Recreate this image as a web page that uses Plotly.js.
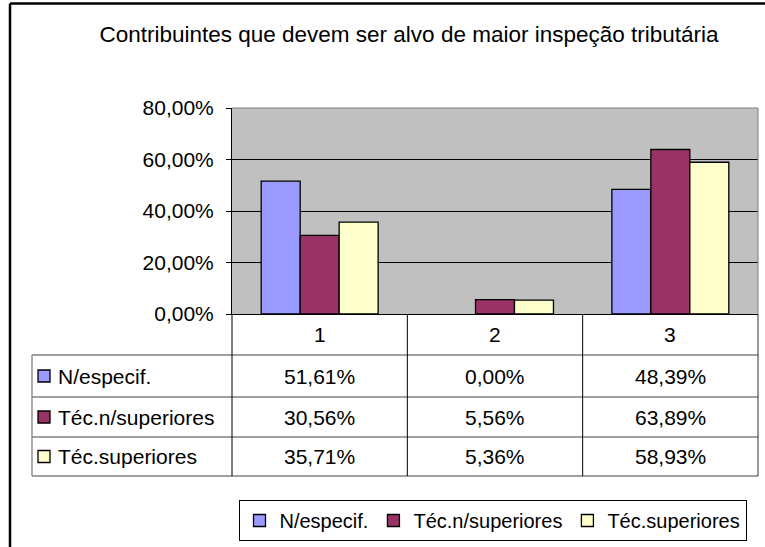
<!DOCTYPE html>
<html>
<head>
<meta charset="utf-8">
<script src="https://cdn.plot.ly/plotly-3.0.1.min.js"></script>
<style>html,body{margin:0;padding:0;background:#fff;}#chart{width:765px;height:547px;}</style>
</head>
<body>
<div id="chart"></div>
<script>
const titleText = 'Contribuintes que devem ser alvo de maior inspeção tributária';
const categories = ['1', '2', '3'];
const seriesNames = ['N/especif.', 'Téc.n/superiores', 'Téc.superiores'];
const nEspecif = [0.5161, 0.0000, 0.4839];
const tecNSuperiores = [0.3056, 0.0556, 0.6389];
const tecSuperiores = [0.3571, 0.0536, 0.5893];
const seriesColors = ['#9999FF', '#993366', '#FFFFCC'];
const yTickVals = [0, 0.2, 0.4, 0.6, 0.8];

const seriesValues = [nEspecif, tecNSuperiores, tecSuperiores];
const W = 765, H = 547;
const FONT = 'Liberation Sans, Arial, sans-serif';
const FS = 21;
const px = x => x / W;
const py = y => 1 - y / H;

// geometry (pixels)
const plotL = 232, plotR = 758, plotT = 108, plotB = 314;
const tableL = 32;
const rowLines = [355, 397, 437, 476];
const headerCenter = (plotB + rowLines[0]) / 2;
const rowCenters = [376, 417, 456.5];

const fmt = v => (v * 100).toFixed(2).replace('.', ',') + '%';

const traces = seriesNames.map((name, s) => ({
  type: 'bar',
  name: name,
  x: categories,
  y: seriesValues[s],
  marker: {
    color: seriesColors[s],
    line: {color: '#000', width: seriesValues[s].map(v => v === 0 ? 0 : 1.3)}
  },
  hoverinfo: 'skip'
}));

const shapes = [];
const line = (x0, y0, x1, y1, color, width) => shapes.push({
  type: 'line', xref: 'paper', yref: 'paper',
  x0: px(x0), y0: py(y0), x1: px(x1), y1: py(y1),
  line: {color: color, width: width}
});
// outer chart border (left & top)
line(10, 3.5, 10, H + 5, '#000', 2.5);
line(10, 3.5, W + 5, 3.5, '#000', 2.5);
// plot area border (top / right)
line(plotL, plotT, plotR, plotT, '#808080', 1);
line(plotR, plotT, plotR, plotB, '#808080', 1);
// table horizontal lines
rowLines.forEach(y => line(tableL, y, plotR, y, '#808080', 1.3));
// table left edge
line(tableL, rowLines[0], tableL, rowLines[3], '#808080', 1.3);
// vertical lines
line(plotL, plotB, plotL, rowLines[3], '#000', 1);
line(plotR, plotB, plotR, rowLines[3], '#303030', 1);
[0.5, 1.5].forEach(xv => shapes.push({
  type: 'line', xref: 'x', yref: 'paper',
  x0: xv, x1: xv, y0: py(plotB), y1: py(rowLines[3]),
  line: {color: '#000', width: 1}
}));
// row legend keys
seriesNames.forEach((n, s) => shapes.push({
  type: 'rect', xref: 'paper', yref: 'paper',
  x0: px(38), x1: px(50), y0: py(rowCenters[s] - 6), y1: py(rowCenters[s] + 6),
  fillcolor: seriesColors[s], line: {color: '#000', width: 1.3}
}));

const annotations = [];
categories.forEach((c, i) => annotations.push({
  xref: 'x', yref: 'paper', x: i, y: py(headerCenter),
  text: c, showarrow: false, xanchor: 'center', yanchor: 'middle',
  font: {family: FONT, size: FS, color: '#000'}
}));
seriesNames.forEach((n, s) => {
  annotations.push({
    xref: 'paper', yref: 'paper', x: px(56), y: py(rowCenters[s]),
    text: n, showarrow: false, xanchor: 'left', yanchor: 'middle',
    font: {family: FONT, size: FS, color: '#000'}
  });
  categories.forEach((c, i) => annotations.push({
    xref: 'x', yref: 'paper', x: i, y: py(rowCenters[s]),
    text: fmt(seriesValues[s][i]), showarrow: false, xanchor: 'center', yanchor: 'middle',
    font: {family: FONT, size: FS, color: '#000'}
  }));
});

const layout = {
  width: W, height: H,
  margin: {l: 0, r: 0, t: 0, b: 0, pad: 0},
  paper_bgcolor: '#fff',
  plot_bgcolor: '#C0C0C0',
  separators: ',.',
  font: {family: FONT, size: FS, color: '#000'},
  title: {
    text: titleText, xref: 'paper', yref: 'paper',
    x: px(409), y: py(34), xanchor: 'center', yanchor: 'middle',
    font: {family: FONT, size: 22.5, color: '#000'}
  },
  barmode: 'group',
  bargap: 0.333,
  bargroupgap: 0,
  xaxis: {
    domain: [px(plotL), px(plotR)],
    type: 'category', range: [-0.5, 2.5],
    showticklabels: false, ticks: '', showgrid: false, zeroline: false,
    showline: true, linecolor: '#000', linewidth: 1, fixedrange: true
  },
  yaxis: {
    domain: [py(plotB), py(plotT)],
    range: [0, 0.8],
    tickvals: yTickVals, tickformat: '.2%',
    ticks: 'outside', ticklen: 5, tickcolor: '#000', tickwidth: 1,
    ticklabelstandoff: 8,
    showgrid: true, gridcolor: '#000', gridwidth: 1,
    zeroline: false, showline: true, linecolor: '#000', linewidth: 1,
    tickfont: {family: FONT, size: FS, color: '#000'}, fixedrange: true
  },
  showlegend: true,
  legend: {
    orientation: 'h', x: px(492.5), xanchor: 'center', y: py(520.5), yanchor: 'middle',
    bordercolor: '#000', borderwidth: 1, bgcolor: '#fff',
    font: {family: FONT, size: 20, color: '#000'},
    traceorder: 'normal', itemwidth: 30, itemclick: false, itemdoubleclick: false
  },
  shapes: shapes,
  annotations: annotations
};

Plotly.newPlot('chart', traces, layout, {displayModeBar: false, staticPlot: true});
</script>
</body>
</html>
